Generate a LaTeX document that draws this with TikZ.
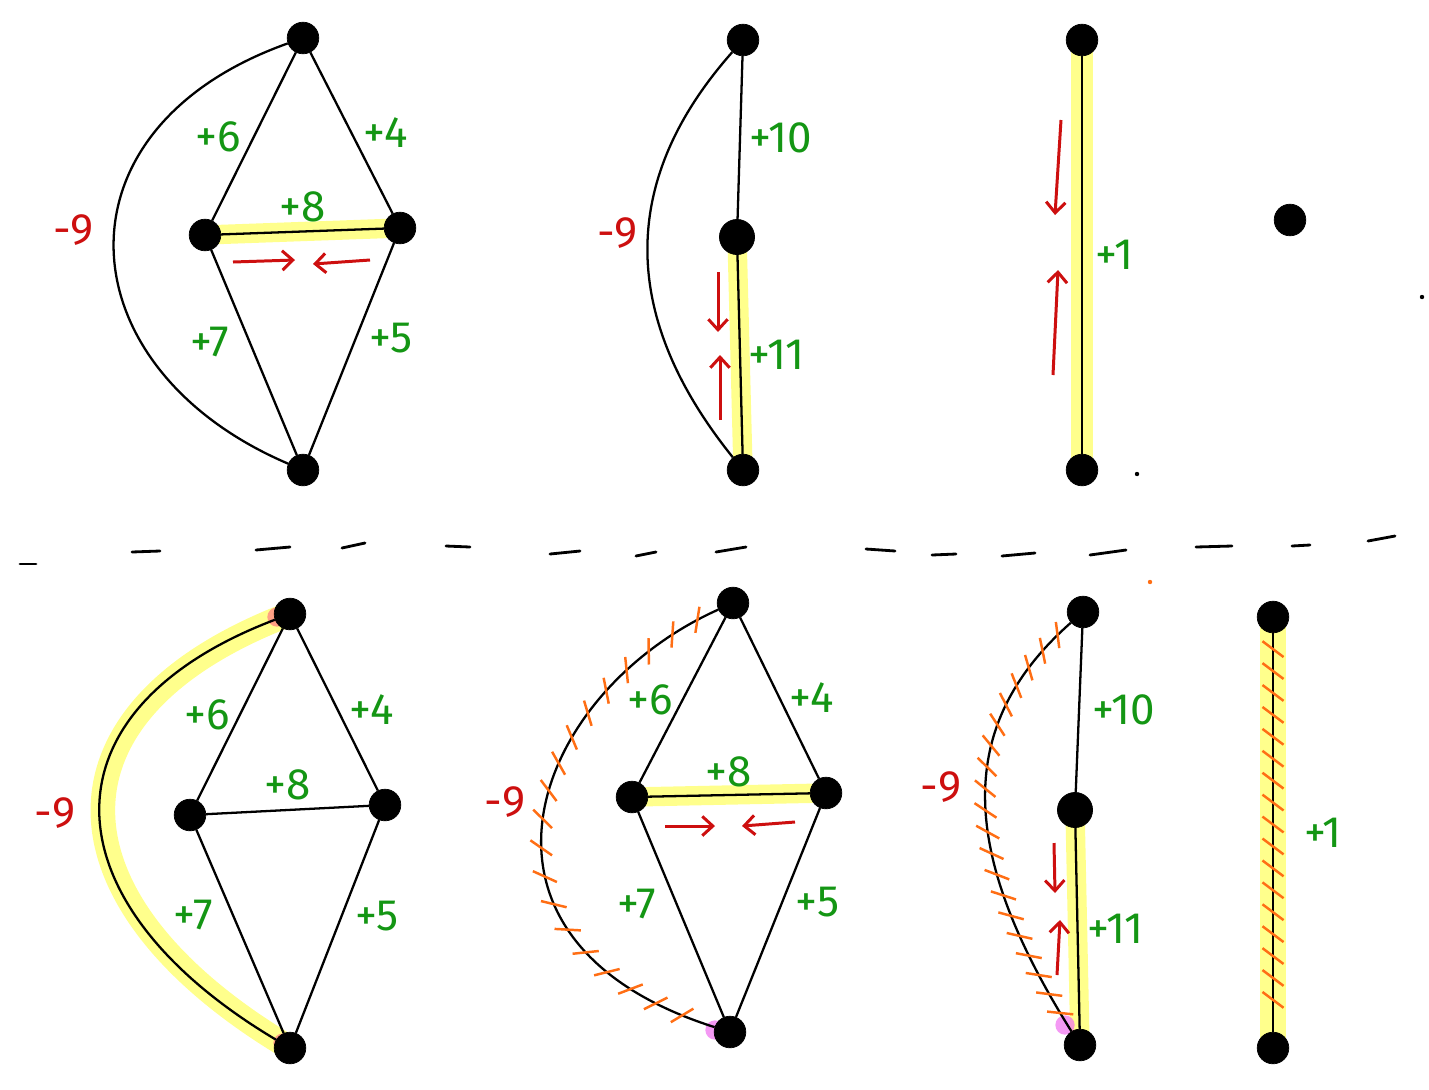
\documentclass[tikz,border=0pt]{standalone}
\usepackage{fontspec}
\setmainfont{Fira Sans}
\usetikzlibrary{arrows.meta, positioning, calc, backgrounds, decorations.markings}

\definecolor{wgreen}{RGB}{20,150,20}
\definecolor{wred}{RGB}{205,15,15}
\definecolor{hlyellow}{RGB}{255,255,120}
\definecolor{tickorange}{RGB}{255,110,20}
\definecolor{endpink}{RGB}{255,120,130}
\definecolor{endmagenta}{RGB}{240,110,240}

\begin{document}
\begin{tikzpicture}[
    x=0.02cm, y=-0.02cm,
    vtx/.style={circle, draw, fill=black, minimum size=18pt, inner sep=0pt},
    link/.style={line width=1.3pt},
    weight/.style={text=wgreen, font=\fontsize{25}{29}\selectfont, inner sep=1pt},
    negweight/.style={weight, text=wred},
    hilite/.style={hlyellow, line width=#1, line cap=round, opacity=0.85},
    hilite/.default=11pt,
    flow/.style={wred, line width=1.7pt, ->, >={Straight Barb[length=6pt,width=11pt]}},
    hatched/.style={postaction={decorate}, decoration={markings,
        mark=between positions 0.04 and 0.97 step #1 with {\draw[tickorange, line width=1.4pt] (-4.5pt,-6pt) -- (4.5pt,6pt);}}},
    hatched/.default=0.05,
    endspot/.style={circle, fill=#1, opacity=0.7, minimum size=11pt, inner sep=0pt},
    speck/.style={circle, fill=#1, minimum size=2.5pt, inner sep=0pt},
    speck/.default=black,
    dashmark/.style={line width=1.6pt, line cap=round}
]

\useasboundingbox (0,0) rectangle (1429,1089);
\begin{scope}[on background layer]
  \fill[white] (0,0) rectangle (1429,1089);
\end{scope}

% Top row: first graph
\node[vtx] (T1) at (303,38) {};
\node[vtx] (L1) at (205,235) {};
\node[vtx] (R1) at (400,228) {};
\node[vtx] (B1) at (303,470) {};
\draw[link] (T1) -- node[weight, left=6pt] {+6} (L1);
\draw[link] (T1) -- node[weight, right=5pt] {+4} (R1);
\draw[link] (L1) -- node[weight, above=4pt] {+8} (R1);
\draw[link] (L1) -- node[weight, pos=0.45, left=10pt] {+7} (B1);
\draw[link] (R1) -- node[weight, pos=0.45, right=6pt] {+5} (B1);
\draw[link] (T1) .. controls (47,129) and (64,368) .. node[negweight, pos=0.46, left=10pt] {-9} (B1);
\draw[flow] ($(L1)+(28,27)$) -- +(62,-2);
\draw[flow] ($(R1)+(-30,32)$) -- +(-57,4);

% Top row: second graph
\node[vtx] (T2) at (743,40) {};
\node[vtx, minimum size=20pt] (M2) at (737,237) {};
\node[vtx] (B2) at (743,470) {};
\draw[link] (T2) -- node[weight, right=4pt] {+10} (M2);
\draw[link] (M2) -- node[weight, right=3pt] {+11} (B2);
\draw[link] (T2) .. controls (619,180) and (619,316) .. node[negweight, pos=0.46, left=4pt] {-9} (B2);
\draw[flow] ($(M2)+(-19,35)$) -- +(0,60);
\draw[flow] ($(M2)+(-17,183)$) -- +(0,-65);

% Top row: third graph
\node[vtx] (T3) at (1082,40) {};
\node[vtx] (B3) at (1082,470) {};
\node[vtx] (I3) at (1290,220) {};
\draw[link] (T3) -- node[weight, right=6pt] {+1} (B3);
\draw[flow] ($(T3)+(-21,80)$) -- +(-6,95);
\draw[flow] ($(T3)+(-29,335)$) -- +(5,-105);
\node[speck] (s1) at (1137,474) {};
\node[speck] (s2) at (1422,297) {};

% Separator
\foreach \xa/\ya/\xb/\yb in {20/564/36/564, 132/552/160/551, 256/550/290/547, 342/548/365/543,
    446/546/470/547, 550/554/580/551, 636/556/656/552, 716/552/746/547, 866/549/895/551,
    932/555/956/554, 1002/556/1035/553, 1090/555/1126/550, 1196/547/1232/546,
    1292/546/1310/545, 1368/541/1395/536}
  \draw[dashmark] (\xa,\ya) -- (\xb,\yb);

% Bottom row: first graph
\node[vtx] (T4) at (290,614) {};
\node[vtx] (L4) at (190,815) {};
\node[vtx] (R4) at (385,805) {};
\node[vtx] (B4) at (290,1048) {};
\draw[link] (T4) -- node[weight, left=4pt] {+6} (L4);
\draw[link] (T4) -- node[weight, right=5pt] {+4} (R4);
\draw[link] (L4) -- node[weight, above=4pt] {+8} (R4);
\draw[link] (L4) -- node[weight, pos=0.42, left=10pt] {+7} (B4);
\draw[link] (R4) -- node[weight, pos=0.45, right=6pt] {+5} (B4);
\draw[link] (T4) .. controls (35,711) and (46,903) .. node[negweight, left=12pt] {-9} (B4);

% Bottom row: second graph
\node[vtx] (T5) at (733,603) {};
\node[vtx] (L5) at (632,797) {};
\node[vtx] (R5) at (826,793) {};
\node[vtx] (B5) at (730,1032) {};
\draw[link] (T5) -- node[weight, left=4pt] {+6} (L5);
\draw[link] (T5) -- node[weight, right=4pt] {+4} (R5);
\draw[link] (L5) -- node[weight, above=3pt] {+8} (R5);
\draw[link] (L5) -- node[weight, pos=0.45, left=10pt] {+7} (B5);
\draw[link] (R5) -- node[weight, pos=0.45, right=6pt] {+5} (B5);
\draw[link, hatched] (T5) .. controls (530,694) and (440,940) .. node[negweight, pos=0.47, left=10pt] {-9} (B5);
\draw[flow] ($(L5)+(33,29)$) -- +(50,0);
\draw[flow] ($(R5)+(-31,29)$) -- +(-53,4);

% Bottom row: third graph
\node[vtx] (T6) at (1083,612) {};
\node[vtx, minimum size=20pt] (M6) at (1075,810) {};
\node[vtx] (B6) at (1080,1045) {};
\draw[link] (T6) -- node[weight, right=6pt] {+10} (M6);
\draw[link] (M6) -- node[weight, right=4pt] {+11} (B6);
\draw[link, hatched=0.048] (T6) .. controls (949,730) and (964,860) .. node[negweight, pos=0.46, left=12pt] {-9} (B6);
\draw[flow] ($(M6)+(-21,33)$) -- +(1,50);
\draw[flow] ($(M6)+(-18,165)$) -- +(3,-55);
\node[speck=tickorange] (s3) at (1150,582) {};

% Bottom row: fourth graph
\node[vtx] (T7) at (1273,617) {};
\node[vtx] (B7) at (1273,1048) {};
\draw[link, hatched=0.055] (T7) -- node[weight, right=16pt] {+1} (B7);

% Highlighter strokes
\begin{scope}[on background layer]
  \draw[hilite] (L1.center) -- (R1.center);
  \draw[hilite] (M2.center) -- (B2.center);
  \draw[hilite=12pt] (T3.center) -- (B3.center);
  \draw[hilite=14pt] (T4.center) .. controls (35,711) and (46,903) .. (B4.center);
  \draw[hilite] (L5.center) -- (R5.center);
  \draw[hilite] (M6.center) -- (B6.center);
  \draw[hilite=15pt] (T7.center) -- (B7.center);
  \node[endspot=endpink] (e4a) at (277,617) {};
  \node[endspot=endpink] (e4b) at (283,1043) {};
  \node[endspot=endmagenta] (e5) at (715,1030) {};
  \node[endspot=endmagenta] (e6) at (1065,1025) {};
\end{scope}

\end{tikzpicture}
\end{document}
